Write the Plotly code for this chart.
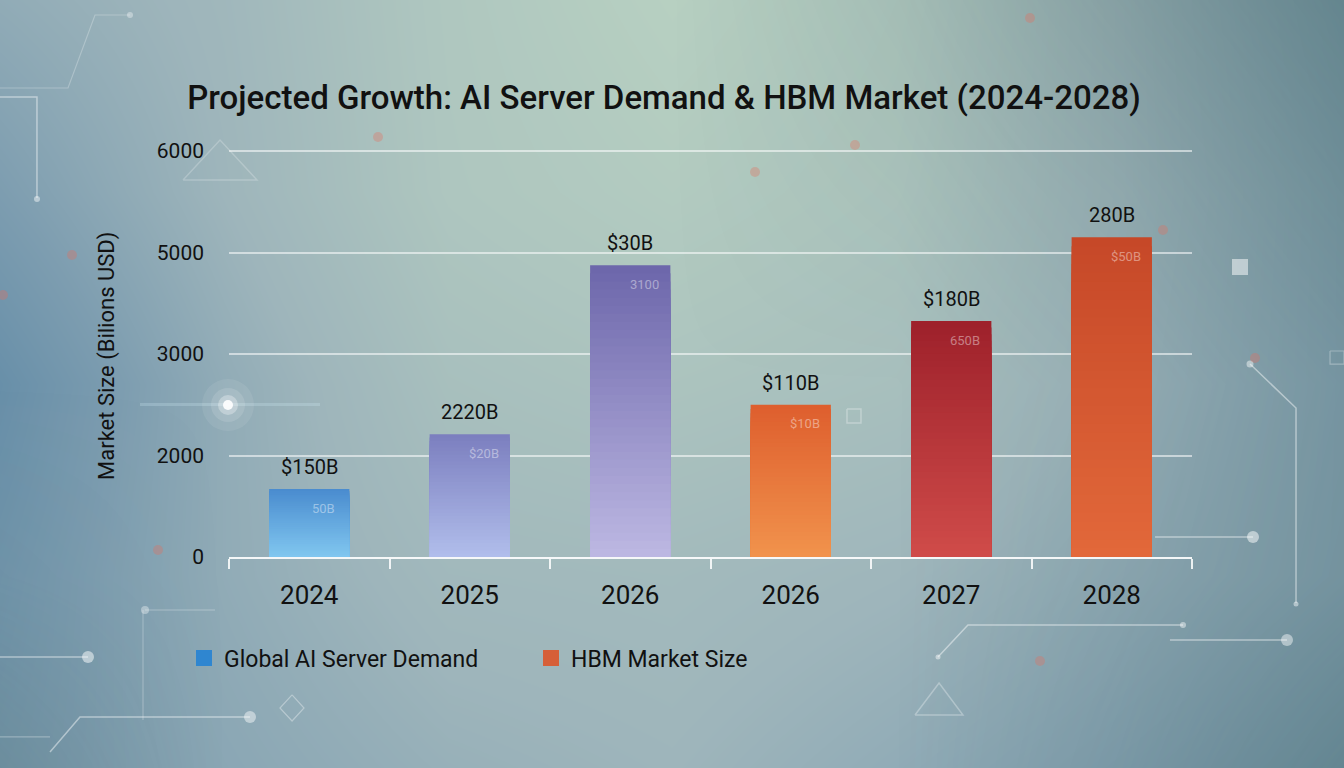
import numpy as np
import plotly.graph_objects as go

# ---------------- data ----------------
categories = ["2024", "2025", "2026", "2026", "2027", "2028"]
series = ["Global AI Server Demand"] * 3 + ["HBM Market Size"] * 3
values = [1340, 2210, 4750, 2500, 3650, 5150]
top_labels = ["$150B", "2220B", "$30B", "$110B", "$180B", "280B"]
inner_labels = ["50B", "$20B", "3100", "$10B", "650B", "$50B"]
y_tick_values = [0, 2000, 3000, 5000, 6000]

# ---------------- styles ----------------
top_colors = ["#4a8ccf", "#7c7fbf", "#6d67ab", "#de5f2e", "#9e212b", "#c64828"]
bottom_colors = ["#80c6ef", "#b0bdeb", "#bcb7e2", "#f1924c", "#cf4b49", "#e2683a"]
legend_colors = {"Global AI Server Demand": "#2f86d0", "HBM Market Size": "#d65f38"}
W, H = 1344, 768
FONT = "Roboto"

# the value axis is drawn with evenly spaced ticks (as in the reference)
tick_pos = np.arange(len(y_tick_values))
ypos = np.interp(values, y_tick_values, tick_pos)
xpos = np.arange(len(categories))


def hex2rgb(h):
    h = h.lstrip("#")
    return np.array([int(h[i:i + 2], 16) for i in (0, 2, 4)], dtype=float)


def lerp(c1, c2, t):
    c = hex2rgb(c1) * (1 - t) + hex2rgb(c2) * t
    return "rgb(%d,%d,%d)" % tuple(np.round(c))


fig = go.Figure()

# ---------------- background (decorative) ----------------
bg_x = [0, 1 / 6, 2 / 6, 3 / 6, 4 / 6, 5 / 6, 1]
bg_y = [0, 0.25, 0.5, 0.75, 1]
bg_z = [
    [0.25, 0.40, 0.50, 0.55, 0.45, 0.35, 0.25],
    [0.20, 0.45, 0.60, 0.62, 0.56, 0.45, 0.35],
    [0.12, 0.45, 0.70, 0.76, 0.70, 0.52, 0.35],
    [0.30, 0.55, 0.80, 0.90, 0.80, 0.55, 0.35],
    [0.45, 0.58, 0.82, 1.00, 0.85, 0.55, 0.30],
]
fig.add_trace(go.Heatmap(
    x=bg_x, y=bg_y, z=bg_z, zsmooth="best", showscale=False, hoverinfo="skip",
    zmin=0, zmax=1,
    colorscale=[[0, "#5a86a4"], [0.3, "#7d9db0"], [0.55, "#9eb5bb"],
                [0.8, "#aec6bf"], [1, "#b7d0c1"]],
    xaxis="x", yaxis="y"))
tint_z = [
    [0.4, 0.0, 0.0, 0.0, 0.0, 0.3, 0.7],
    [0.1, 0.0, 0.0, 0.0, 0.0, 0.2, 0.45],
    [0.0, 0.0, 0.0, 0.0, 0.0, 0.15, 0.4],
    [0.0, 0.0, 0.0, 0.0, 0.1, 0.3, 0.6],
    [0.0, 0.0, 0.0, 0.0, 0.2, 0.5, 0.8],
]
fig.add_trace(go.Heatmap(
    x=bg_x, y=bg_y, z=tint_z, zsmooth="best", showscale=False, hoverinfo="skip",
    zmin=0, zmax=1,
    colorscale=[[0, "rgba(70,100,100,0)"], [1, "rgba(70,105,100,0.55)"]],
    xaxis="x", yaxis="y"))

# ---------------- bars with vertical gradient ----------------
N = 36
for k in range(N, 0, -1):
    frac = k / N
    t = (N - k) / (N - 1)
    fig.add_trace(go.Bar(
        x=xpos, y=ypos * frac, width=0.5,
        marker=dict(color=[lerp(top_colors[i], bottom_colors[i], t) for i in range(len(xpos))],
                    line=dict(width=0)),
        showlegend=False, hoverinfo="skip", xaxis="x2", yaxis="y2"))

# legend entries
for name in ["Global AI Server Demand", "HBM Market Size"]:
    fig.add_trace(go.Scatter(
        x=[None], y=[None], mode="markers", name=name,
        marker=dict(symbol="square", size=22, color=legend_colors[name]),
        xaxis="x2", yaxis="y2"))

# ---------------- labels ----------------
annotations = []
for i in range(len(xpos)):
    annotations.append(dict(
        x=xpos[i], y=ypos[i], xref="x2", yref="y2", text=top_labels[i],
        showarrow=False, yanchor="bottom", yshift=8,
        font=dict(family=FONT, size=20, color="#111111")))
    annotations.append(dict(
        x=xpos[i], y=ypos[i], xref="x2", yref="y2", text=inner_labels[i],
        showarrow=False, yanchor="middle", xshift=14, yshift=-19,
        font=dict(family=FONT, size=13, color="rgba(255,255,255,0.42)")))
annotations.append(dict(
    x=107 / W, y=1 - 356 / H, xref="paper", yref="paper", xanchor="center", yanchor="middle",
    text="Market Size (Bilions USD)", textangle=-90, showarrow=False,
    font=dict(family=FONT, size=22, color="#111111")))

# ---------------- decorative shapes ----------------
deco = "rgba(255,255,255,0.45)"
shapes = []


def px(x, y):
    return x / W, 1 - y / H


def line(pts, w=1.5, col=deco):
    path = "M " + " L ".join("%.4f,%.4f" % px(x, y) for x, y in pts)
    shapes.append(dict(type="path", path=path, xref="paper", yref="paper",
                       line=dict(color=col, width=w), layer="above"))


def dot(x, y, r, col=deco, fill=None):
    x0, y0 = px(x - r, y + r)
    x1, y1 = px(x + r, y - r)
    shapes.append(dict(type="circle", x0=x0, y0=y0, x1=x1, y1=y1,
                       xref="paper", yref="paper",
                       line=dict(width=0), fillcolor=fill or col, layer="above"))


line([(0, 97), (37, 97), (37, 198)])
dot(37, 199, 3)
line([(0, 88), (68, 88), (95, 15), (130, 15)], w=1.2, col="rgba(255,255,255,0.25)")
dot(130, 15, 3, col="rgba(255,255,255,0.35)")
line([(1250, 364), (1296, 408), (1296, 603)])
dot(1250, 364, 3.5)
dot(1296, 604, 2.5)
line([(1155, 537), (1253, 537)])
dot(1253, 537, 6, col="rgba(255,255,255,0.5)")
line([(938, 657), (968, 625), (1183, 625)])
dot(1183, 625, 3)
dot(938, 657, 2.5)
line([(1170, 640), (1287, 640)])
dot(1287, 640, 6, col="rgba(255,255,255,0.45)")
line([(0, 657), (88, 657)])
dot(88, 657, 6, col="rgba(255,255,255,0.5)")
line([(145, 610), (215, 610)], w=1.2, col="rgba(255,255,255,0.3)")
line([(143, 610), (143, 720)], w=1.2, col="rgba(255,255,255,0.25)")
dot(145, 610, 4, col="rgba(255,255,255,0.35)")
line([(50, 752), (80, 717), (250, 717)])
dot(250, 717, 6, col="rgba(255,255,255,0.45)")
line([(0, 737), (50, 737)], w=1.2, col="rgba(255,255,255,0.3)")
line([(183, 180), (220, 140), (257, 180), (183, 180)], w=1.5, col="rgba(255,255,255,0.22)")
line([(915, 715), (939, 683), (963, 715), (915, 715)], w=1.5, col="rgba(255,255,255,0.3)")
line([(292, 695), (304, 708), (292, 721), (280, 708), (292, 695)], w=1.2, col="rgba(255,255,255,0.35)")
line([(847, 409), (861, 409), (861, 423), (847, 423), (847, 409)], w=1.5, col="rgba(255,255,255,0.3)")
line([(1330, 351), (1344, 351), (1344, 364), (1330, 364), (1330, 351)], w=1.2, col="rgba(255,255,255,0.3)")
for (x, y) in [(378, 137), (855, 145), (1030, 18), (1163, 230), (1255, 358), (1040, 661),
               (158, 550), (72, 255), (3, 295), (755, 172)]:
    dot(x, y, 5, col="rgba(230,110,90,0.33)")
for (x, y) in [(1240, 267)]:
    x0, y0 = px(x - 8, y + 8)
    x1, y1 = px(x + 8, y - 8)
    shapes.append(dict(type="rect", x0=x0, y0=y0, x1=x1, y1=y1, xref="paper", yref="paper",
                       line=dict(width=0), fillcolor="rgba(255,255,255,0.5)", layer="above"))
# soft glow near the value axis
x0, y0 = px(140, 406)
x1, y1 = px(320, 403)
shapes.append(dict(type="rect", x0=x0, y0=y0, x1=x1, y1=y1, xref="paper", yref="paper",
                   line=dict(width=0), fillcolor="rgba(220,245,255,0.22)", layer="above"))
dot(228, 405, 26, col="rgba(255,255,255,0.08)")
dot(228, 405, 17, col="rgba(255,255,255,0.12)")
dot(228, 405, 10, col="rgba(255,255,255,0.3)")
dot(228, 405, 5, col="rgba(255,255,255,0.9)")

# ---------------- layout ----------------
fig.update_layout(
    width=W, height=H,
    margin=dict(l=0, r=0, t=0, b=0, pad=0, autoexpand=False),
    paper_bgcolor="#9ab2b8",
    plot_bgcolor="rgba(0,0,0,0)",
    font=dict(family=FONT, color="#111111"),
    barmode="overlay",
    bargap=0.5,
    title=dict(text="Projected Growth: AI Server Demand & HBM Market (2024-2028)",
               x=664 / W, xanchor="center", y=1 - 97 / H, yanchor="middle",
               font=dict(family=FONT, size=33, color="#111111", weight=500)),
    xaxis=dict(domain=[0, 1], range=[0, 1], visible=False, fixedrange=True),
    yaxis=dict(domain=[0, 1], range=[0, 1], visible=False, fixedrange=True),
    xaxis2=dict(domain=[229 / W, 1192 / W], range=[-0.5, 5.5], anchor="y2",
                tickmode="array", tickvals=list(xpos), ticktext=categories,
                ticks="", ticklabelstandoff=14,
                tickfont=dict(family=FONT, size=26, color="#111111"),
                showgrid=False, zeroline=False,
                showline=True, linecolor="rgba(255,255,255,0.9)", linewidth=2,
                minor=dict(tickmode="array", tickvals=list(np.arange(-0.5, 6, 1.0)),
                           ticks="outside", ticklen=10, tickwidth=1.5,
                           tickcolor="rgba(255,255,255,0.85)", showgrid=False)),
    yaxis2=dict(domain=[1 - 557 / H, 1 - 149 / H], range=[0, 4.02], anchor="x2",
                tickmode="array", tickvals=list(tick_pos),
                ticktext=[str(v) for v in y_tick_values],
                ticks="", ticklabelstandoff=24,
                tickfont=dict(family=FONT, size=21, color="#111111"),
                showgrid=True, gridcolor="rgba(255,255,255,0.55)", gridwidth=2,
                zeroline=False, showline=False),
    legend=dict(orientation="h", x=184 / W, xanchor="left", y=1 - 658 / H, yanchor="middle",
                font=dict(family=FONT, size=23, color="#111111"),
                bgcolor="rgba(0,0,0,0)", entrywidth=302, itemsizing="trace"),
    annotations=annotations,
    shapes=shapes,
)

fig.write_html("out.html", config={"displayModeBar": False},
               post_script="document.body.style.margin='0px';document.body.style.overflow='hidden';")
